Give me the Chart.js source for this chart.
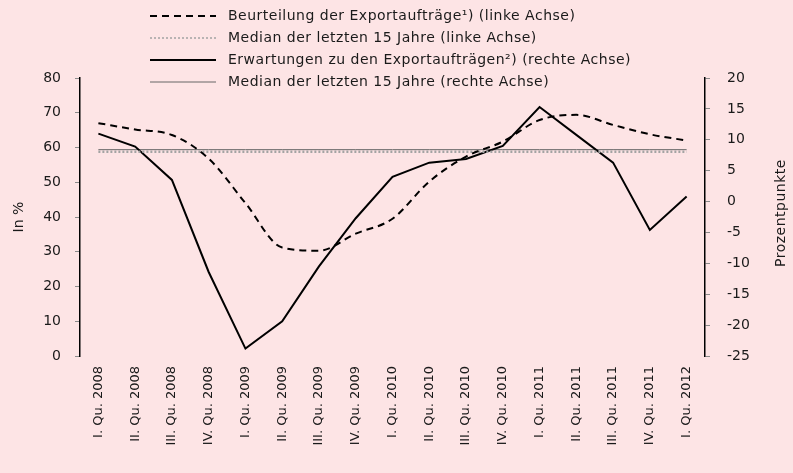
<!DOCTYPE html>
<html>
<head>
<meta charset="utf-8">
<script src="https://cdn.jsdelivr.net/npm/chart.js@4"></script>
<style>
  body { margin: 0; background: #fde4e5; }
  canvas { display: block; }
</style>
</head>
<body>
<canvas id="myChart" width="793" height="473"></canvas>
<script>
"use strict";

//////////////////////////////
// Data
const quarters = [
  "I. Qu. 2008", "II. Qu. 2008", "III. Qu. 2008", "IV. Qu. 2008",
  "I. Qu. 2009", "II. Qu. 2009", "III. Qu. 2009", "IV. Qu. 2009",
  "I. Qu. 2010", "II. Qu. 2010", "III. Qu. 2010", "IV. Qu. 2010",
  "I. Qu. 2011", "II. Qu. 2011", "III. Qu. 2011", "IV. Qu. 2011",
  "I. Qu. 2012",
];
// Beurteilung (linke Achse, in %)
const assessment = [67.0, 65.2, 63.6, 56.8, 44.0, 31.2, 30.3, 35.2, 39.5, 50.2, 57.4, 61.7, 67.9, 69.4, 66.5, 63.8, 62.0];
const assessmentMedian = 58.8;
// Erwartungen (rechte Achse, Prozentpunkte)
const expectations = [11.0, 8.9, 3.5, -11.4, -23.8, -19.4, -10.5, -2.7, 4.0, 6.3, 6.9, 9.0, 15.3, 10.8, 6.3, -4.6, 0.8];
const expectationsMedian = 8.4;

const legendLabels = [
  "Beurteilung der Exportaufträge¹) (linke Achse)",
  "Median der letzten 15 Jahre (linke Achse)",
  "Erwartungen zu den Exportaufträgen²) (rechte Achse)",
  "Median der letzten 15 Jahre (rechte Achse)",
];

//////////////////////////////
// Styles
const font = "DejaVu Sans";
const textColor = "#1a1a1a";
const tickColor = "#8a8a8a";

// custom legend + right axis title
const extras = {
  id: "extras",
  afterDraw(chart) {
    const ctx = chart.ctx;
    ctx.save();
    ctx.font = `14px "${font}"`;
    ctx.letterSpacing = "0.5px";
    ctx.fillStyle = textColor;
    ctx.textBaseline = "middle";
    const rowsY = [16, 38, 60, 82];
    chart.data.datasets.forEach((ds, i) => {
      const y = rowsY[i];
      ctx.beginPath();
      ctx.strokeStyle = ds.borderColor;
      ctx.lineWidth = i === 1 ? 1.5 : ds.borderWidth;
      ctx.setLineDash(ds.borderDash || []);
      ctx.moveTo(150, y);
      ctx.lineTo(216, y);
      ctx.stroke();
      ctx.setLineDash([]);
      ctx.fillText(ds.label, 228, y);
    });

    // right axis title, reading bottom to top
    ctx.translate(781, 213);
    ctx.rotate(-Math.PI / 2);
    ctx.textAlign = "center";
    ctx.fillText("Prozentpunkte", 0, 0);
    ctx.restore();
  },
};

const medianLeft = quarters.map(() => assessmentMedian);
const medianRight = quarters.map(() => expectationsMedian);

const ctx = document.getElementById("myChart").getContext("2d");
const chart = new Chart(ctx, {
  type: "line",
  data: {
    labels: quarters,
    datasets: [
      {
        label: legendLabels[0],
        data: assessment,
        yAxisID: "y",
        borderColor: "#000",
        borderWidth: 2,
        borderDash: [7, 5],
        cubicInterpolationMode: "monotone",
        pointRadius: 0,
      },
      {
        label: legendLabels[1],
        data: medianLeft,
        yAxisID: "y",
        borderColor: "#a3a3a3",
        borderWidth: 2.5,
        borderDash: [2, 2],
        pointRadius: 0,
      },
      {
        label: legendLabels[2],
        data: expectations,
        yAxisID: "y1",
        borderColor: "#000",
        borderWidth: 2,
        tension: 0,
        pointRadius: 0,
      },
      {
        label: legendLabels[3],
        data: medianRight,
        yAxisID: "y1",
        borderColor: "#666",
        borderWidth: 1,
        pointRadius: 0,
      },
    ],
  },
  options: {
    responsive: false,
    animation: false,
    layout: { padding: { top: 78, left: 0, right: 0, bottom: 0 } },
    plugins: {
      legend: { display: false },
      tooltip: { enabled: false },
    },
    scales: {
      x: {
        offset: true,
        grid: { display: false },
        border: { display: false },
        ticks: {
          color: textColor,
          font: { family: font, size: 13 },
          minRotation: 90,
          maxRotation: 90,
          padding: 2,
        },
        afterFit: (scale) => {
          scale.height = 117;
        },
      },
      y: {
        position: "left",
        min: 0,
        max: 80,
        ticks: {
          stepSize: 10,
          color: textColor,
          font: { family: font, size: 14 },
          padding: 14,
        },
        grid: {
          drawOnChartArea: false,
          tickLength: 5,
          color: tickColor,
        },
        border: { display: true, color: "#000", width: 1.5 },
        title: {
          display: true,
          text: "In %",
          color: textColor,
          font: { family: font, size: 14 },
          padding: { top: 11, bottom: 0 },
        },
        afterFit: (scale) => {
          scale.width = 80;
        },
      },
      y1: {
        position: "right",
        min: -25,
        max: 20,
        ticks: {
          stepSize: 5,
          color: textColor,
          font: { family: font, size: 14 },
          padding: 17,
        },
        grid: {
          drawOnChartArea: false,
          tickLength: 5,
          color: tickColor,
        },
        border: { display: true, color: "#000", width: 1.5 },
        afterFit: (scale) => {
          scale.width = 88;
        },
      },
    },
  },
  plugins: [extras],
});
</script>
</body>
</html>
